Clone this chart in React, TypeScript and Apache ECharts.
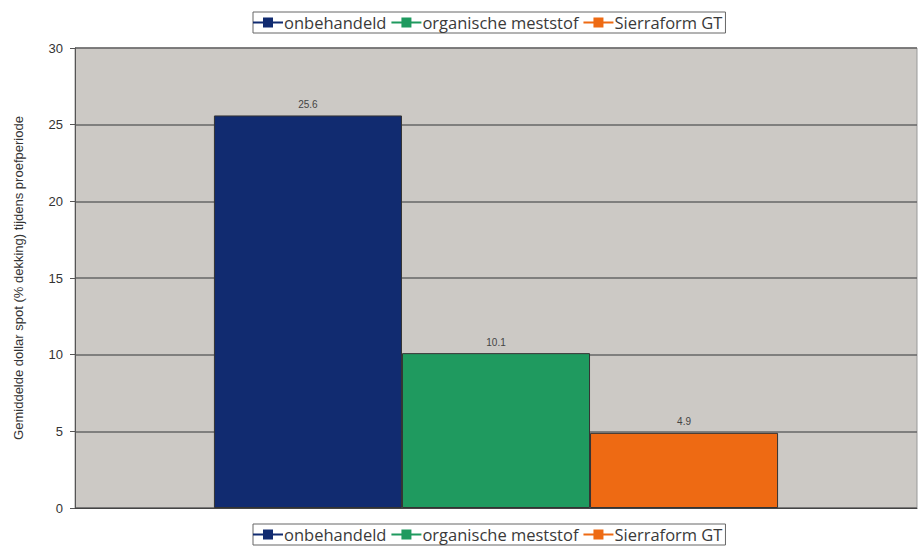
import React, { useEffect, useRef } from "react";
import * as echarts from "echarts";

const categories = [""];
const seriesNames = ["onbehandeld", "organische meststof", "Sierraform GT"];
const seriesValues = [[25.6], [10.1], [4.9]];
const seriesColors = ["#112b70", "#1f9a5f", "#ee6a13"];
const yTicks = { min: 0, max: 30, interval: 5 };

const legendIcon = "path://M0,5 H10 V1 H20 V5 H30 V7 H20 V11 H10 V7 H0 Z";

export default function App() {
  const ref = useRef<HTMLDivElement>(null);
  useEffect(() => {
    const chart = echarts.init(ref.current!, null, { renderer: "svg" });
    const legendBase = {
      data: seriesNames,
      left: 253,
      icon: legendIcon,
      itemWidth: 30,
      itemHeight: 11,
      itemGap: 5,
      itemStyle: { borderWidth: 0 },
      borderColor: "#666",
      borderWidth: 1,
      backgroundColor: "#fff",
      padding: [2, 3, 2, 0],
      textStyle: { fontFamily: "Open Sans", fontSize: 16.5, color: "#3a3a3a", padding: [0, 0, 0, -4] },
    };
    chart.setOption({
      animation: false,
      backgroundColor: "#fff",
      legend: [
        { ...legendBase, top: 12 },
        { ...legendBase, top: 524 },
      ],
      grid: {
        left: 75,
        right: 3,
        top: 48,
        bottom: 40,
        show: true,
        backgroundColor: "#ccc9c5",
        borderColor: "#999",
        borderWidth: 1,
      },
      xAxis: {
        type: "category",
        data: categories,
        axisLine: { lineStyle: { color: "#444" } },
        axisTick: { show: false },
        axisLabel: { show: false },
      },
      yAxis: {
        type: "value",
        min: yTicks.min,
        max: yTicks.max,
        interval: yTicks.interval,
        name: "Gemiddelde dollar spot (% dekking) tijdens proefperiode",
        nameLocation: "middle",
        nameGap: 50,
        nameTextStyle: { fontFamily: "Liberation Sans", fontSize: 13, color: "#333" },
        axisLine: { show: true, lineStyle: { color: "#555" } },
        axisTick: { show: true, length: 5, lineStyle: { color: "#555" } },
        axisLabel: { fontFamily: "Liberation Sans", fontSize: 13, color: "#333", margin: 12 },
        splitLine: { lineStyle: { color: "#666", width: 1.5 } },
      },
      series: seriesNames.map((name, i) => ({
        name,
        type: "bar",
        data: seriesValues[i],
        barGap: "0%",
        barCategoryGap: "33%",
        itemStyle: { color: seriesColors[i], borderColor: "#333", borderWidth: 1 },
        label: {
          show: true,
          position: "top",
          distance: 6,
          fontFamily: "Liberation Sans",
          fontSize: 10,
          color: "#444",
          formatter: (p: any) => p.value.toFixed(1),
        },
      })),
    });
    return () => chart.dispose();
  }, []);
  return <div ref={ref} style={{ width: 920, height: 548, position: "absolute", left: 0, top: 0 }} />;
}
